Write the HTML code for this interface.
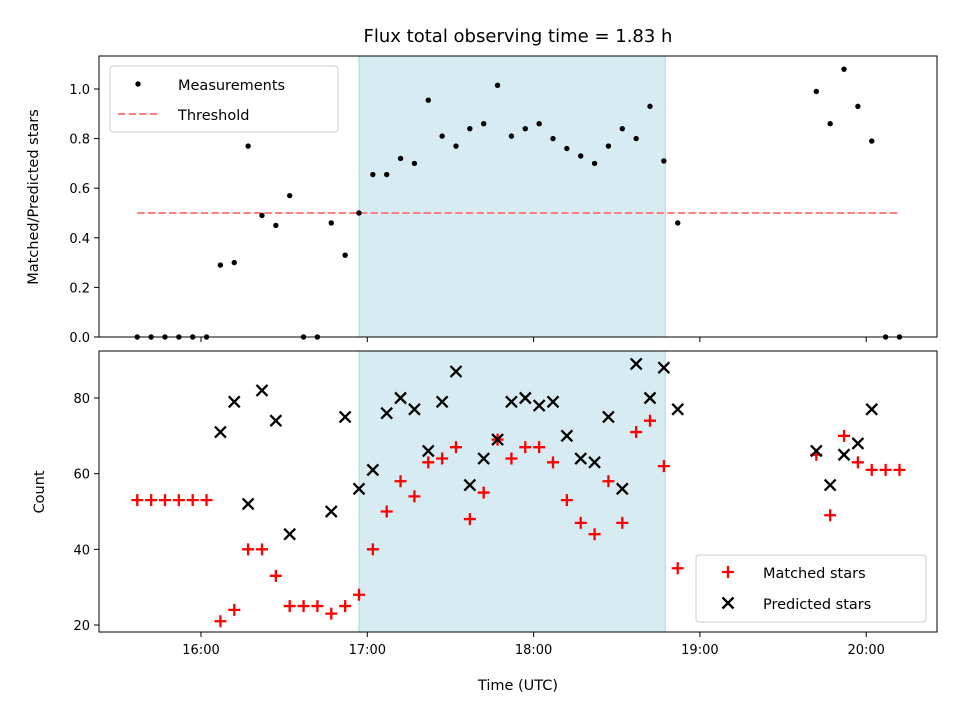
<!DOCTYPE html>
<html><head><meta charset="utf-8"><style>
body{margin:0;background:#fff;font-family:"Liberation Sans","DejaVu Sans",sans-serif}
svg text{font-family:"DejaVu Sans","Liberation Sans",sans-serif;fill:#000}
</style></head><body>
<svg id="c" width="960" height="720" viewBox="0 0 960 720" xmlns="http://www.w3.org/2000/svg"></svg>
<script>
// minutes since 15:00
const times=[37,42,47,52,57,62,67,72,77,82,87,92,97,102,107,112,117,122,127,132,137,142,147,152,157,162,167,172,177,182,187,192,197,202,207,212,217,222,227,232,282,287,292,297,302,307,312];
const ratio=[0,0,0,0,0,0,0.29,0.30,0.77,0.49,0.45,0.57,0,0,0.46,0.33,0.50,0.655,0.655,0.72,0.70,0.955,0.81,0.77,0.84,0.86,1.015,0.81,0.84,0.86,0.80,0.76,0.73,0.70,0.77,0.84,0.80,0.93,0.71,0.46,0.99,0.86,1.08,0.93,0.79,0,0];
const matched=[53,53,53,53,53,53,21,24,40,40,33,25,25,25,23,25,28,40,50,58,54,63,64,67,48,55,69,64,67,67,63,53,47,44,58,47,71,74,62,35,65,49,70,63,61,61,61];
const predicted=[null,null,null,null,null,null,71,79,52,82,74,44,null,null,50,75,56,61,76,80,77,66,79,87,57,64,69,79,80,78,79,70,64,63,75,56,89,80,88,77,66,57,65,68,77,null,null];
const xTicks=[60,120,180,240,300];
const xTickLabels=["16:00","17:00","18:00","19:00","20:00"];
const topYTicks=[0,0.2,0.4,0.6,0.8,1.0];
const botYTicks=[20,40,60,80];
const spanStart=117, spanEnd=227.5, threshold=0.5, thrStart=37, thrEnd=312;

const L=99,R=937,T1=56,B1=337,T2=351,B2=632;
const x=m=>201+(m-60)*(166.3/60);
const y1=v=>337-v*248;
const y2=v=>625-(v-20)*(227/60);
const svg=document.getElementById('c');
const NS='http://www.w3.org/2000/svg';
function mk(tag,attrs,parent){const e=document.createElementNS(NS,tag);for(const k in attrs)e.setAttribute(k,attrs[k]);(parent||svg).appendChild(e);return e;}

let s=mk('rect',{x:x(spanStart),y:T1,width:x(spanEnd)-x(spanStart),height:B1-T1,fill:'#add8e6','fill-opacity':0.5,stroke:'#add8e6'});


s=mk('rect',{x:x(spanStart),y:T2,width:x(spanEnd)-x(spanStart),height:B2-T2,fill:'#add8e6','fill-opacity':0.5,stroke:'#add8e6'});



let th=mk('line',{x1:x(thrStart),x2:x(thrEnd),y1:y1(threshold),y2:y1(threshold),stroke:'#ff7f7f','stroke-width':2,'stroke-dasharray':'7.4,3.2'});



times.forEach((t,i)=>{
  const c=mk('circle',{cx:x(t),cy:y1(ratio[i]),r:2.7,fill:'#000'});
  
  
});
times.forEach((t,i)=>{
  const cx=x(t),cy=y2(matched[i]);
  const p=mk('path',{d:`M${cx-6},${cy}H${cx+6}M${cx},${cy-6}V${cy+6}`,stroke:'#f00','stroke-width':2.3});
  
  
  if(predicted[i]!==null){
    const py=y2(predicted[i]);
    const q=mk('path',{d:`M${cx-5.5},${py-5.5}L${cx+5.5},${py+5.5}M${cx-5.5},${py+5.5}L${cx+5.5},${py-5.5}`,stroke:'#000','stroke-width':2.3});
    
    
  }
});

[[T1,B1,'top-axes-frame'],[T2,B2,'bottom-axes-frame']].forEach(([a,b,n])=>{
  const r=mk('rect',{x:L,y:a,width:R-L,height:b-a,fill:'none',stroke:'#000','stroke-width':1});
  
  
});
xTicks.forEach((m,i)=>{
  mk('line',{x1:x(m),x2:x(m),y1:B1,y2:B1+5,stroke:'#000'});
  mk('line',{x1:x(m),x2:x(m),y1:B2,y2:B2+5,stroke:'#000'});
  const t=mk('text',{x:x(m),y:B2+22,'text-anchor':'middle','font-size':13});
  t.textContent=xTickLabels[i];
  
  
});
topYTicks.forEach(v=>{
  mk('line',{x1:L-5,x2:L,y1:y1(v),y2:y1(v),stroke:'#000'});
  const t=mk('text',{x:L-9,y:y1(v)+5,'text-anchor':'end','font-size':13});
  t.textContent=v.toFixed(1);
  
  
});
botYTicks.forEach(v=>{
  mk('line',{x1:L-5,x2:L,y1:y2(v),y2:y2(v),stroke:'#000'});
  const t=mk('text',{x:L-9,y:y2(v)+5,'text-anchor':'end','font-size':13});
  t.textContent=v;
  
  
});
</script>
<svg width="960" height="720" style="position:absolute;left:0;top:0" xmlns="http://www.w3.org/2000/svg">
<text x="518" y="42" text-anchor="middle" font-size="18">Flux total observing time = 1.83 h</text>
<text transform="translate(38,197) rotate(-90)" text-anchor="middle" font-size="14.5">Matched/Predicted stars</text>
<text transform="translate(44,492) rotate(-90)" text-anchor="middle" font-size="14.5">Count</text>
<text x="518" y="690" text-anchor="middle" font-size="14.5">Time (UTC)</text>
<g>
<rect x="110" y="66" width="228" height="66" rx="3" fill="#fff" fill-opacity="0.8" stroke="#ccc"/>
<circle cx="138" cy="84" r="2.7" fill="#000"/>
<text x="178" y="90" font-size="14.5">Measurements</text>
<line x1="118" x2="158" y1="114" y2="114" stroke="#ff7f7f" stroke-width="2" stroke-dasharray="7.4,3.2"/>
<text x="178" y="120" font-size="14.5">Threshold</text>
</g>
<g>
<rect x="696" y="555" width="230" height="67" rx="3" fill="#fff" fill-opacity="0.8" stroke="#ccc"/>
<path d="M722,572H734M728,566V578" stroke="#f00" stroke-width="2.3"/>
<text x="763" y="578" font-size="14.5">Matched stars</text>
<path d="M722.5,597.5L733.5,608.5M722.5,608.5L733.5,597.5" stroke="#000" stroke-width="2.3"/>
<text x="763" y="609" font-size="14.5">Predicted stars</text>
</g>
</svg>
</body></html>
